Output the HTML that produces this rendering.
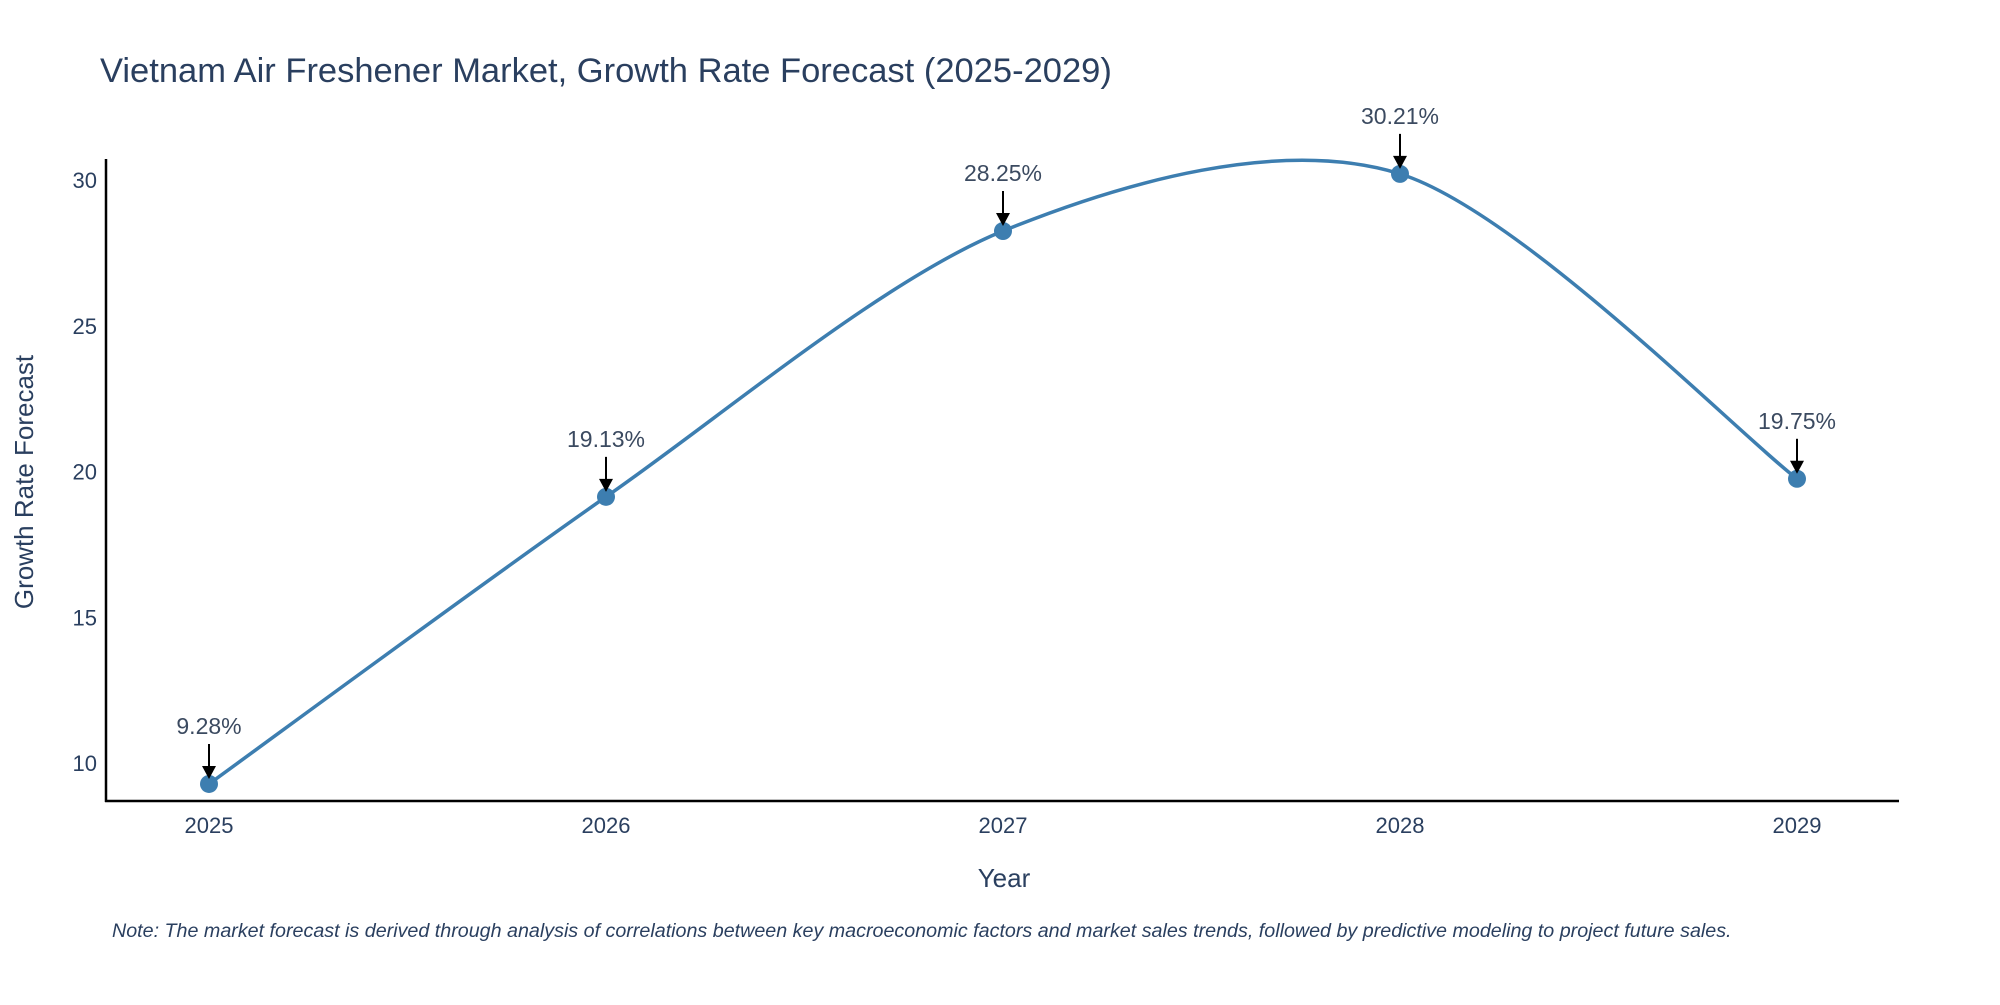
<!DOCTYPE html>
<html>
<head>
<meta charset="utf-8">
<style>
  html,body{margin:0;padding:0;background:#fff;}
  body{width:2000px;height:1000px;overflow:hidden;font-family:"Liberation Sans",sans-serif;}
  svg text{font-family:"Liberation Sans",sans-serif;}
</style>
</head>
<body>
<svg id="chart" width="2000" height="1000" xmlns="http://www.w3.org/2000/svg">
  <text x="100" y="82" font-size="34.5" fill="#2a3f5f">Vietnam Air Freshener Market, Growth Rate Forecast (2025-2029)</text>
  <g id="grid"></g>
  <line x1="106" y1="159" x2="106" y2="802" stroke="#000" stroke-width="2.5"/>
  <line x1="105" y1="801" x2="1899" y2="801" stroke="#000" stroke-width="2.5"/>
  <g id="yticks"></g>
  <g id="xticks"></g>
  <g id="series"></g>
  <g id="annots"></g>
  <text transform="translate(33,482) rotate(-90)" text-anchor="middle" font-size="26" fill="#2a3f5f">Growth Rate Forecast</text>
  <text x="1004" y="887" text-anchor="middle" font-size="26" fill="#2a3f5f">Year</text>
  <text x="112" y="937" font-size="19.7" font-style="italic" fill="#2a3f5f">Note: The market forecast is derived through analysis of correlations between key macroeconomic factors and market sales trends, followed by predictive modeling to project future sales.</text>
</svg>
<script>
const years = [2025, 2026, 2027, 2028, 2029];
const growth = [9.28, 19.13, 28.25, 30.21, 19.75];
const valueLabels = ["9.28%", "19.13%", "28.25%", "30.21%", "19.75%"];
const yTicks = [10, 15, 20, 25, 30];

const NS = "http://www.w3.org/2000/svg";
function xScale(v){ return 209 + (v - 2025) * (1797 - 209) / 4; }
function yScale(v){ return 763 - (v - 10) * (763 - 180) / 20; }
function mk(tag, attrs, parent){
  const e = document.createElementNS(NS, tag);
  for (const k in attrs) e.setAttribute(k, attrs[k]);
  parent.appendChild(e);
  return e;
}

const yt = document.getElementById('yticks');
yTicks.forEach(t => {
  const e = mk('text', {x: 97, y: yScale(t) + 8, 'text-anchor': 'end', 'font-size': 22, fill: '#2a3f5f'}, yt);
  
  
  e.textContent = t;
});
const xt = document.getElementById('xticks');
years.forEach(y => {
  const e = mk('text', {x: xScale(y), y: 833, 'text-anchor': 'middle', 'font-size': 22, fill: '#2a3f5f'}, xt);
  
  
  e.textContent = y;
});

const pts = years.map((y, i) => [xScale(y), yScale(growth[i])]);
let d = `M${pts[0][0]},${pts[0][1]}`;
const tension = 0.15;
for (let i = 0; i < pts.length - 1; i++) {
  const p0 = pts[Math.max(i-1,0)], p1 = pts[i], p2 = pts[i+1], p3 = pts[Math.min(i+2, pts.length-1)];
  const c1 = [p1[0] + (p2[0]-p0[0])*tension, p1[1] + (p2[1]-p0[1])*tension];
  const c2 = [p2[0] - (p3[0]-p1[0])*tension, p2[1] - (p3[1]-p1[1])*tension];
  d += ` C${c1[0]},${c1[1]} ${c2[0]},${c2[1]} ${p2[0]},${p2[1]}`;
}
const s = document.getElementById('series');
const line = mk('path', {d: d, fill: 'none', stroke: '#3d7eb0', 'stroke-width': 3.5}, s);


pts.forEach((p, i) => {
  const c = mk('circle', {cx: p[0], cy: p[1], r: 9, fill: '#3d7eb0'}, s);
  
  
});

const a = document.getElementById('annots');
pts.forEach((p, i) => {
  const ln = mk('line', {x1: p[0], y1: p[1] - 40, x2: p[0], y2: p[1] - 16, stroke: '#000', 'stroke-width': 2}, a);
  
  
  const hd = mk('polygon', {points: `${p[0]-7},${p[1]-18} ${p[0]+7},${p[1]-18} ${p[0]},${p[1]-5}`, fill: '#000'}, a);
  
  
  const t = mk('text', {x: p[0], y: p[1] - 50, 'text-anchor': 'middle', 'font-size': 23, fill: '#3b4a60'}, a);
  
  
  t.textContent = valueLabels[i];
});
</script>
</body>
</html>
